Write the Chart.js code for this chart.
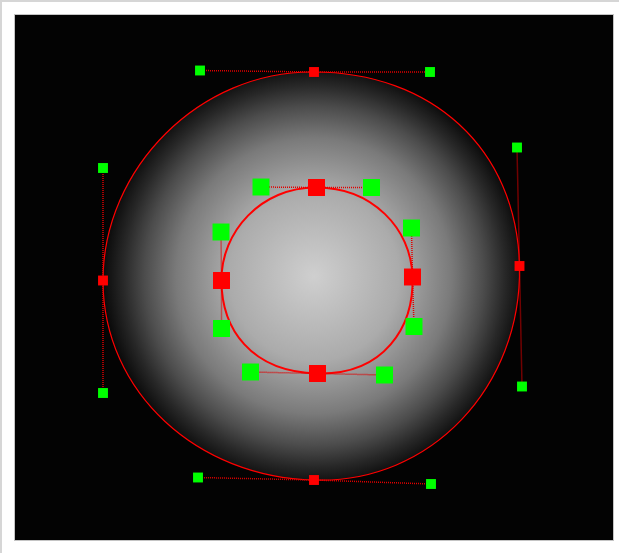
<!DOCTYPE html>
<html>
<head>
<meta charset="utf-8">
<script src="https://cdn.jsdelivr.net/npm/chart.js@4"></script>
<style>
  html, body { margin: 0; padding: 0; background: #ffffff; }
  #frame { position: absolute; left: 0; top: 0; width: 617px; height: 551px;
           border-top: 2px solid #d6d6d6; border-left: 2px solid #d6d6d6; background: #fff; }
  #box { position: absolute; left: 12px; top: 12px; width: 598px; height: 525px;
         border: 1px solid #c4c4c4; background: #000; }
  canvas { display: block; }
</style>
</head>
<body>
<div id="frame"><div id="box"><canvas id="c" width="598" height="525"></canvas></div></div>
<script>
// Path order (clockwise): top, right, bottom, left. Each anchor has an incoming and outgoing control point.
const outerAnchors = [[314, 72], [519.5, 266], [314, 480], [103, 280.5]];
const outerCtrlIn  = [[200, 70.5], [517, 147.5], [431, 484], [103, 393]];
const outerCtrlOut = [[430, 72], [522, 386.5], [198, 477.5], [103, 168]];

const innerAnchors = [[316.5, 187.5], [412.5, 277], [317.5, 373.5], [221.5, 280.5]];
const innerCtrlIn  = [[261, 187], [411.5, 228], [384.5, 375], [221.5, 328.5]];
const innerCtrlOut = [[371.5, 187.5], [414, 326.5], [250.5, 372], [221, 232]];

const gradientCenter = [314, 276];
const gradientRadius = 212;

const pts = a => a.map(p => ({x: p[0], y: p[1]}));
const handles = (anc, cin, cout) => {
  const out = [];
  anc.forEach((a, i) => {
    out.push({x: cin[i][0], y: cin[i][1]}, {x: a[0], y: a[1]}, {x: cout[i][0], y: cout[i][1]}, {x: null, y: null});
  });
  return out;
};

function bezierPath(ctx, xs, ys, anc, cin, cout) {
  const P = p => [xs.getPixelForValue(p[0]), ys.getPixelForValue(p[1])];
  ctx.beginPath();
  const s = P(anc[0]);
  ctx.moveTo(s[0], s[1]);
  for (let i = 0; i < anc.length; i++) {
    const j = (i + 1) % anc.length;
    const c1 = P(cout[i]), c2 = P(cin[j]), e = P(anc[j]);
    ctx.bezierCurveTo(c1[0], c1[1], c2[0], c2[1], e[0], e[1]);
  }
  ctx.closePath();
}

const shapePlugin = {
  id: 'shapes',
  beforeDatasetsDraw(chart) {
    const ctx = chart.ctx, xs = chart.scales.x, ys = chart.scales.y, a = chart.chartArea;
    ctx.save();
    ctx.fillStyle = '#030303';
    ctx.fillRect(a.left, a.top, a.right - a.left, a.bottom - a.top);
    const cx = xs.getPixelForValue(gradientCenter[0]), cy = ys.getPixelForValue(gradientCenter[1]);
    const r = Math.abs(xs.getPixelForValue(gradientCenter[0] + gradientRadius) - cx);
    const g = ctx.createRadialGradient(cx, cy, 0, cx, cy, r);
    g.addColorStop(0, '#cfcfcf');
    g.addColorStop(0.4, '#ababab');
    g.addColorStop(0.65, '#7a7a7a');
    g.addColorStop(0.8, '#4c4c4c');
    g.addColorStop(0.9, '#282828');
    g.addColorStop(1, '#080808');
    bezierPath(ctx, xs, ys, outerAnchors, outerCtrlIn, outerCtrlOut);
    ctx.fillStyle = g;
    ctx.fill();
    ctx.strokeStyle = '#ff0000';
    ctx.lineWidth = 1.2;
    ctx.stroke();
    bezierPath(ctx, xs, ys, innerAnchors, innerCtrlIn, innerCtrlOut);
    ctx.lineWidth = 2;
    ctx.stroke();
    ctx.restore();
  }
};

new Chart(document.getElementById('c'), {
  type: 'scatter',
  data: {
    datasets: [
      { label: 'outer anchors', data: pts(outerAnchors), pointStyle: 'rect', pointRadius: 7, pointBorderWidth: 0,
        backgroundColor: '#ff0000', borderColor: '#ff0000', order: 0 },
      { label: 'outer controls', data: pts(outerCtrlIn.concat(outerCtrlOut)), pointStyle: 'rect', pointRadius: 7, pointBorderWidth: 0,
        backgroundColor: '#00ff00', borderColor: '#00ff00', order: 0 },
      { label: 'inner anchors', data: pts(innerAnchors), pointStyle: 'rect', pointRadius: 12, pointBorderWidth: 0,
        backgroundColor: '#ff0000', borderColor: '#ff0000', order: 0 },
      { label: 'inner controls', data: pts(innerCtrlIn.concat(innerCtrlOut)), pointStyle: 'rect', pointRadius: 12, pointBorderWidth: 0,
        backgroundColor: '#00ff00', borderColor: '#00ff00', order: 0 },
      { label: 'outer handles', data: handles(outerAnchors, outerCtrlIn, outerCtrlOut), showLine: true, spanGaps: false,
        borderColor: '#e00000', borderWidth: 1.5, borderDash: [1, 1], pointRadius: 0, tension: 0, order: 1 },
      { label: 'inner handles', data: handles(innerAnchors, innerCtrlIn, innerCtrlOut), showLine: true, spanGaps: false,
        borderColor: '#e00000', borderWidth: 1.5, borderDash: [1, 1], pointRadius: 0, tension: 0, order: 1 }
    ]
  },
  options: {
    responsive: false,
    animation: false,
    devicePixelRatio: 1,
    layout: { padding: 0, autoPadding: false },
    plugins: { legend: { display: false }, tooltip: { enabled: false } },
    scales: {
      x: { type: 'linear', min: 15, max: 613, display: false },
      y: { type: 'linear', min: 15, max: 540, reverse: true, display: false }
    }
  },
  plugins: [shapePlugin]
});
</script>
</body>
</html>
